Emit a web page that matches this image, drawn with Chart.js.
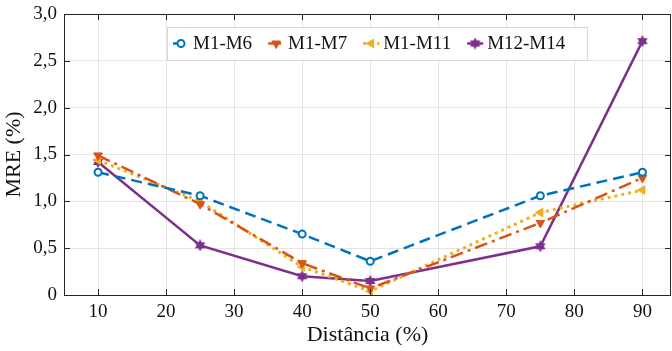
<!DOCTYPE html>
<html>
<head>
<meta charset="utf-8">
<script src="https://cdn.jsdelivr.net/npm/chart.js@4.4.1/dist/chart.umd.min.js"></script>
<style>
  html, body { margin: 0; padding: 0; background: #fff; }
</style>
</head>
<body>
<canvas id="mreChart" width="672" height="351"></canvas>
<script>
// data
const distances = [10, 25, 40, 50, 75, 90];
const xTicks = [10, 20, 30, 40, 50, 60, 70, 80, 90];
const yTicks = [0, 0.5, 1.0, 1.5, 2.0, 2.5, 3.0];
const seriesNames = ['M1-M6', 'M1-M7', 'M1-M11', 'M12-M14'];
const m1m6 = [1.31, 1.06, 0.65, 0.36, 1.06, 1.31];
const m1m7 = [1.49, 0.97, 0.34, 0.07, 0.77, 1.25];
const m1m11 = [1.44, 1.00, 0.30, 0.04, 0.88, 1.12];
const m12m14 = [1.42, 0.53, 0.20, 0.15, 0.52, 2.71];

const FONT = "'Liberation Serif', serif";

// six-pointed star marker (MATLAB hexagram)
function makeHexagram(color, size) {
    const c = document.createElement('canvas');
    c.width = size; c.height = size;
    const g = c.getContext('2d');
    const cx = size / 2, cy = size / 2, r = size / 2;
    g.fillStyle = color;
    for (const off of [-Math.PI / 2, Math.PI / 2]) {
        g.beginPath();
        for (let i = 0; i < 3; i++) {
            const a = off + i * 2 * Math.PI / 3;
            const px = cx + r * Math.cos(a), py = cy + r * Math.sin(a);
            i === 0 ? g.moveTo(px, py) : g.lineTo(px, py);
        }
        g.closePath();
        g.fill();
    }
    return c;
}
const starImg = makeHexagram('#7E2F8E', 12);

const toPoints = vals => distances.map((d, i) => ({ x: d, y: vals[i] }));

const datasets = [
    {
        label: seriesNames[0], data: toPoints(m1m6),
        borderColor: '#0072BD', borderWidth: 2.5, borderDash: [11, 6],
        pointStyle: 'circle', pointRadius: 3.5, pointBorderWidth: 2,
        pointBackgroundColor: '#fff', pointBorderColor: '#0072BD'
    },
    {
        label: seriesNames[1], data: toPoints(m1m7),
        borderColor: '#D95319', borderWidth: 2.5, borderDash: [13, 5, 3, 5],
        pointStyle: 'triangle', pointRotation: 180, pointRadius: 5, pointBorderWidth: 1,
        pointBackgroundColor: '#D95319', pointBorderColor: '#D95319'
    },
    {
        label: seriesNames[2], data: toPoints(m1m11),
        borderColor: '#EDB120', borderWidth: 3, borderDash: [3, 4],
        pointStyle: 'triangle', pointRotation: -90, pointRadius: 5, pointBorderWidth: 1,
        pointBackgroundColor: '#EDB120', pointBorderColor: '#EDB120'
    },
    {
        label: seriesNames[3], data: toPoints(m12m14),
        borderColor: '#7E2F8E', borderWidth: 2.5,
        pointStyle: starImg, pointRadius: 6,
        pointBackgroundColor: '#7E2F8E', pointBorderColor: '#7E2F8E'
    }
];

// box around plot + inward ticks
const frame = {
    id: 'frame',
    afterDatasetsDraw(chart) {
        const { ctx, chartArea: a, scales } = chart;
        ctx.save();
        ctx.strokeStyle = '#262626';
        ctx.lineWidth = 1;
        ctx.beginPath();
        for (const v of xTicks) {
            const px = Math.round(scales.x.getPixelForValue(v)) + 0.5;
            ctx.moveTo(px, a.bottom); ctx.lineTo(px, a.bottom - 6);
            ctx.moveTo(px, a.top); ctx.lineTo(px, a.top + 6);
        }
        for (const v of yTicks) {
            const py = Math.round(scales.y.getPixelForValue(v)) + 0.5;
            ctx.moveTo(a.left, py); ctx.lineTo(a.left + 6, py);
            ctx.moveTo(a.right, py); ctx.lineTo(a.right - 6, py);
        }
        ctx.stroke();
        ctx.strokeRect(Math.round(a.left) + 0.5, Math.round(a.top) + 0.5,
            Math.round(a.right - a.left) - 1, Math.round(a.bottom - a.top));
        ctx.restore();
    }
};

// legend drawn inside the axes, like MATLAB 'north' location
const insideLegend = {
    id: 'insideLegend',
    afterDraw(chart) {
        const { ctx, chartArea: a } = chart;
        const boxL = a.left + 103, boxT = a.top + 13, boxW = 420, boxH = 33;
        ctx.save();
        ctx.fillStyle = '#fff';
        ctx.fillRect(boxL, boxT, boxW, boxH);
        ctx.strokeStyle = '#d9d9d9';
        ctx.lineWidth = 1;
        ctx.strokeRect(boxL + 0.5, boxT + 0.5, boxW, boxH);
        ctx.font = '19px ' + FONT;
        ctx.textBaseline = 'middle';
        let x = boxL + 6;
        const cy = boxT + boxH / 2;
        chart.data.datasets.forEach(ds => {
            ctx.strokeStyle = ds.borderColor;
            ctx.lineWidth = ds.borderWidth;
            ctx.setLineDash(ds.borderDash || []);
            ctx.beginPath();
            ctx.moveTo(x, cy); ctx.lineTo(x + 16, cy);
            ctx.stroke();
            ctx.setLineDash([]);
            ctx.fillStyle = ds.pointBackgroundColor;
            ctx.strokeStyle = ds.pointBorderColor;
            ctx.lineWidth = ds.pointBorderWidth || 1;
            Chart.helpers.drawPoint(ctx, {
                pointStyle: ds.pointStyle, radius: ds.pointRadius,
                rotation: ds.pointRotation || 0, borderWidth: ds.pointBorderWidth || 1
            }, x + 8, cy);
            ctx.fillStyle = '#111';
            ctx.fillText(ds.label, x + 20, cy + 1);
            x += 20 + ctx.measureText(ds.label).width + 16;
        });
        ctx.restore();
    }
};

const canvas = document.getElementById('mreChart');
new Chart(canvas.getContext('2d'), {
    type: 'line',
    data: { datasets: datasets },
    options: {
        responsive: false,
        animation: false,
        devicePixelRatio: 1,
        layout: { autoPadding: false, padding: { top: 14, right: 1, left: 0, bottom: 0 } },
        plugins: { legend: { display: false }, tooltip: { enabled: false } },
        scales: {
            x: {
                type: 'linear', min: 5, max: 94.2,
                afterBuildTicks: s => { s.ticks = xTicks.map(v => ({ value: v })); },
                afterFit: s => { s.height = 56; s.paddingLeft = 0; s.paddingRight = 0; },
                grid: { color: '#e3e3e3', drawTicks: false },
                border: { display: false },
                ticks: { color: '#111', font: { family: FONT, size: 19 }, padding: 6 },
                title: { display: true, text: 'Distância (%)', color: '#111',
                    font: { family: FONT, size: 22 }, padding: { top: 0, bottom: 3 } }
            },
            y: {
                min: 0, max: 3,
                afterBuildTicks: s => { s.ticks = yTicks.map(v => ({ value: v })); },
                afterFit: s => { s.width = 64; s.paddingTop = 0; s.paddingBottom = 0; },
                grid: { color: '#e3e3e3', drawTicks: false },
                border: { display: false },
                ticks: {
                    color: '#111', font: { family: FONT, size: 19 }, padding: 7,
                    callback: v => v === 0 ? '0' : v.toFixed(1).replace('.', ',')
                },
                title: { display: true, text: 'MRE (%)', color: '#111',
                    font: { family: FONT, size: 22 }, padding: { top: 1, bottom: 0 } }
            }
        }
    },
    plugins: [frame, insideLegend]
});
</script>
</body>
</html>
